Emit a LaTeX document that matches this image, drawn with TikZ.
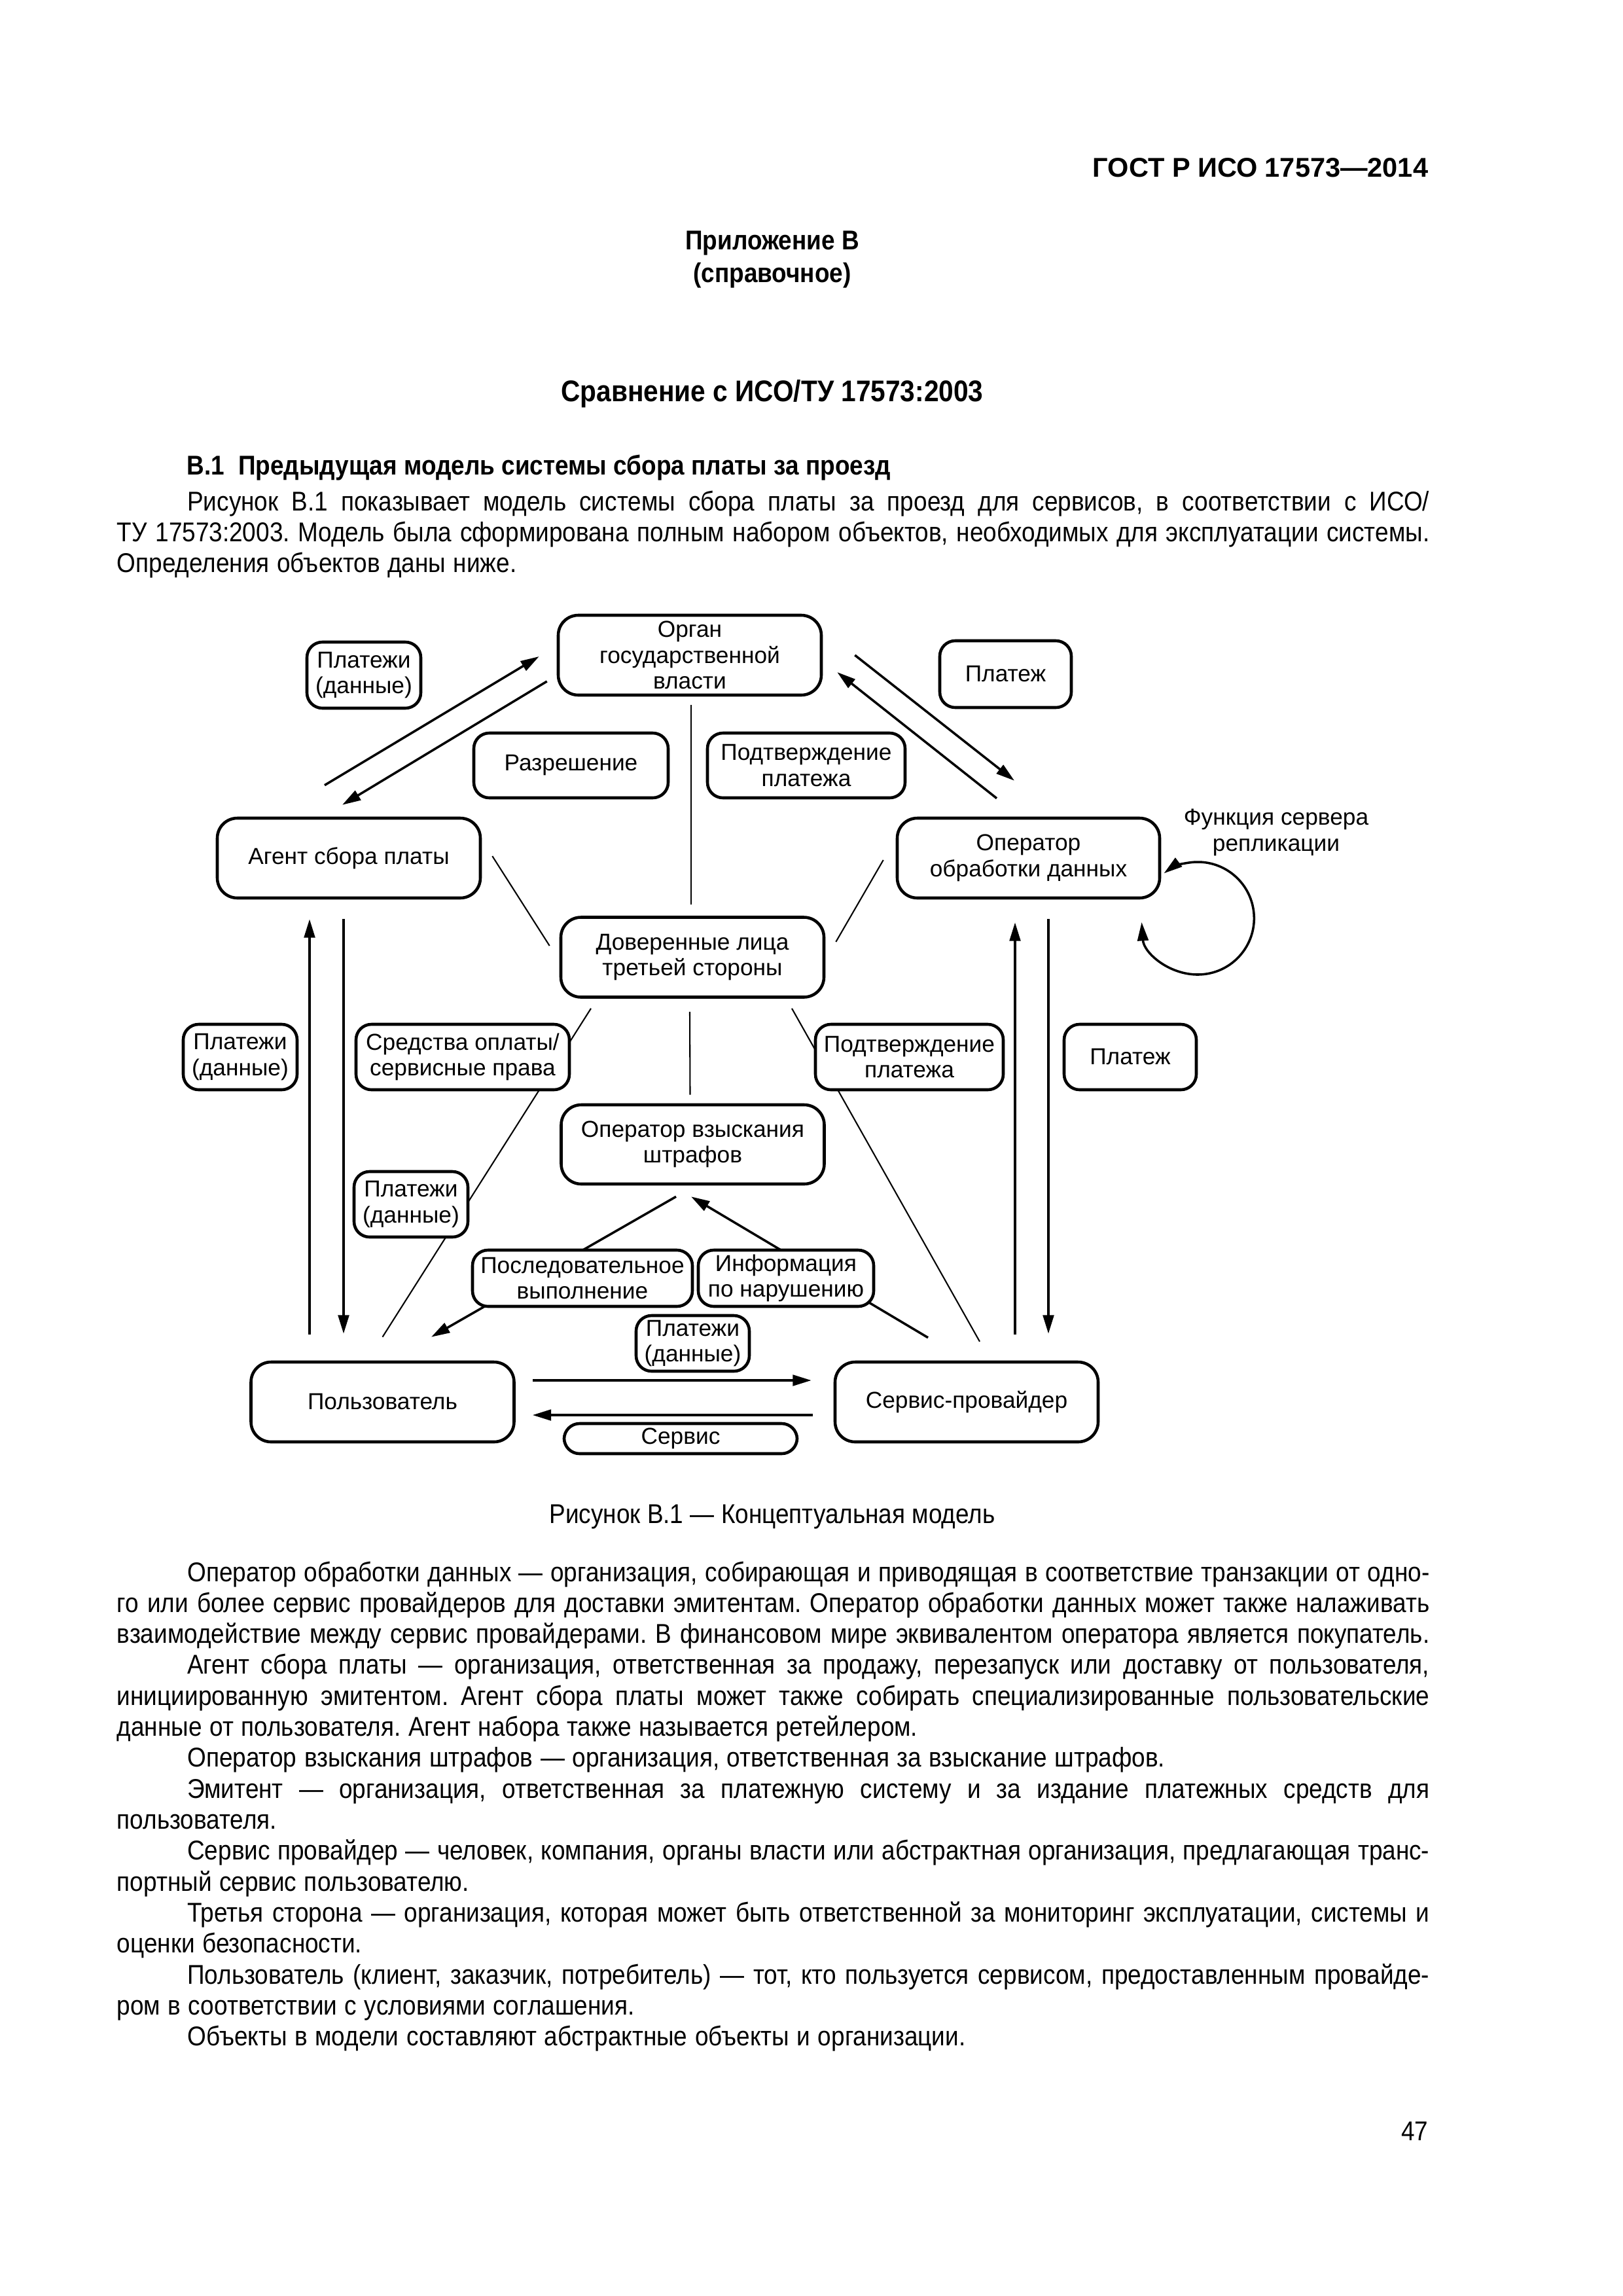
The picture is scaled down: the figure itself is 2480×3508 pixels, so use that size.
\documentclass[tikz,border=0pt]{standalone}
\usepackage{fontspec}
\setmainfont{Liberation Sans}[FakeStretch=0.89]
\newfontfamily\diagfont{Liberation Sans}
\usetikzlibrary{arrows.meta,calc}

\def\pxl{0.08467mm}
\newlength\indw
\setlength\indw{9.1mm}
\newcommand\jl[1]{\hbox to\hsize{#1}}
\newcommand\paraset{\spaceskip=0.278em plus 0.6em minus 0.13em\relax\parindent=0pt\relax}

\begin{document}
\frenchspacing
\begin{tikzpicture}[x=\pxl, y=-\pxl,
    box/.style={draw, rounded corners=2.6mm, line width=1.1pt, align=center, inner sep=0pt,
        font=\diagfont\fontsize{8.5}{9.5}\selectfont},
    entity/.style={box, minimum width=402*\pxl, minimum height=122*\pxl},
    flowtag/.style 2 args={box, fill=white, rounded corners=2mm, minimum width=#1*\pxl, minimum height=#2*\pxl},
    arr/.style={line width=0.85pt, -{Triangle[length=2.4mm,width=1.4mm]}},
    link/.style={line width=0.5pt},
    txt/.style={inner sep=0pt, font=\fontsize{10}{11.4}\selectfont},
    btxt/.style={inner sep=0pt, font=\fontsize{10}{11.4}\selectfont\bfseries},
    para/.style={txt, text width=169.8mm, anchor=base west},
]
\useasboundingbox (0,0) rectangle (2480,3508);

% page text
\node[btxt, font=\diagfont\fontsize{10}{11.4}\selectfont\bfseries, anchor=base east] (hdr) at (2183,270) {ГОСТ Р ИСО 17573—2014};
\node[btxt, anchor=base] (annex) at (1180,381) {Приложение В};
\node[btxt, anchor=base] (annexkind) at (1180,431) {(справочное)};
\node[btxt, font=\fontsize{11}{12.5}\selectfont\bfseries, anchor=base] (title) at (1180,613) {Сравнение с ИСО/ТУ 17573:2003};
\node[btxt, anchor=base west] (sec) at (285,725) {В.1\hspace{0.5em}Предыдущая модель системы сбора платы за проезд};
\node[para] (intro) at (178,780) {\paraset
\jl{\hspace*{\indw}Рисунок В.1 показывает модель системы сбора платы за проезд для сервисов, в соответствии с ИСО/}
\jl{ТУ 17573:2003. Модель была сформирована полным набором объектов, необходимых для эксплуатации системы.}
Определения объектов даны ниже.\par};

% main entities
\node[entity] (organ) at (1054,1001) {Орган\\государственной\\власти};
\node[entity] (agent) at (533,1311) {Агент сбора платы};
\node[entity, minimum width=401*\pxl] (dp) at (1571.5,1311) {Оператор\\обработки данных};
\node[entity] (trusted) at (1058,1462.5) {Доверенные лица\\третьей стороны};
\node[entity, minimum height=121*\pxl] (penalty) at (1058.5,1748.5) {Оператор взыскания\\штрафов};
\node[entity] (user) at (584.5,2142) {Пользователь};
\node[entity] (provider) at (1477,2142) {Сервис-провайдер};

% organ <-> agent, organ <-> dp
\draw[arr] ($(agent.north)+(-37,-48)$) -- ($(organ.west)+(-27,2)$);
\draw[arr] ($(organ.west)+(-15,40)$) -- ($(agent.north)+(-10,-18)$);
\draw[arr] ($(organ.east)+(49,0)$) -- ($(dp.north)+(-21.5,-55)$);
\draw[arr] ($(dp.north)+(-48.5,-28)$) -- ($(organ.east)+(22,26)$);

% thin links of the third party
\draw[link] ($(organ.south)+(2,13)$) -- ($(trusted.north)+(-2,-17)$);
\draw[link] ($(agent.east)+(16,-3)$) -- ($(trusted.west)+(-15,-17.5)$);
\draw[link] ($(dp.west)+(-19,3)$) -- ($(trusted.east)+(16,-23.5)$);
\draw[link] ($(trusted.south)+(-155,15)$) -- ($(user.north)+(0,-36)$);
\draw[link] ($(trusted.south)+(-4,20)$) -- ($(penalty.north)+(-4,-13)$);
\draw[link] ($(trusted.south)+(152,15)$) -- ($(provider.north)+(20,-29)$);

% vertical arrows
\draw[arr] ($(user.north)+(-111.5,-40)$) -- ($(agent.south)+(-60,30)$);
\draw[arr] ($(agent.south)+(-8,30)$) -- ($(user.north)+(-59.5,-41)$);
\draw[arr] ($(provider.north)+(74,-40)$) -- ($(dp.south)+(-20.5,35)$);
\draw[arr] ($(dp.south)+(30.5,30)$) -- ($(provider.north)+(125,-41)$);

% penalty operator
\draw[arr] ($(penalty.south)+(-25.5,17)$) -- ($(user.north)+(74.5,-36)$);
\draw[arr] ($(provider.north)+(-59,-35)$) -- ($(penalty.south)+(-2.5,17)$);

% user <-> provider
\draw[arr] ($(user.east)+(26,-33)$) -- ($(provider.west)+(-34,-33)$);
\draw[arr] ($(provider.west)+(-32,20)$) -- ($(user.east)+(26,20)$);

% replication loop
\coordinate (loopc) at ($(dp.east)+(56,92)$);
\draw[line width=0.85pt, {Triangle[length=2.4mm,width=1.4mm]}-{Triangle[length=2.4mm,width=1.4mm]}]
    ($(loopc)+(176:86)$) arc[start angle=176, end angle=-127, radius=86];
\node[align=center, inner sep=0pt, font=\diagfont\fontsize{8.5}{9.5}\selectfont] (repl) at (1950,1272) {Функция сервера\\репликации};

% flow labels
\node[flowtag={174}{101}] (pay1) at (556,1031.5) {Платежи\\(данные)};
\node[flowtag={201}{102}] (fee1) at (1536.5,1030) {Платеж};
\node[flowtag={297}{99}] (permit) at (872.5,1169.5) {Разрешение};
\node[flowtag={302}{99}] (confirm1) at (1232,1169.5) {Подтверждение\\платежа};
\node[flowtag={174}{100}] (pay2) at (367,1615) {Платежи\\(данные)};
\node[flowtag={326}{100}] (means) at (707,1615) {Средства оплаты/\\сервисные права};
\node[flowtag={287}{100}] (confirm2) at (1389.5,1615) {Подтверждение\\платежа};
\node[flowtag={202}{100}] (fee2) at (1727,1615) {Платеж};
\node[flowtag={174}{100}] (pay3) at (628,1840) {Платежи\\(данные)};
\node[flowtag={336}{86}] (seq) at (890,1953) {Последовательное\\выполнение};
\node[flowtag={268}{86}] (info) at (1201,1953) {Информация\\по нарушению};
\node[flowtag={173}{85}] (pay4) at (1058.5,2052.5) {Платежи\\(данные)};
\node[flowtag={356}{46}] (service) at (1040,2198) {Сервис};

\node[txt, anchor=base] (caption) at (1180,2327) {Рисунок В.1 — Концептуальная модель};

% definitions
\node[para] (defs) at (178,2416) {\paraset
\jl{\hspace*{\indw}Оператор обработки данных — организация, собирающая и приводящая в соответствие транзакции от одно-}
\jl{го или более сервис провайдеров для доставки эмитентам. Оператор обработки данных может также налаживать}
\jl{взаимодействие между сервис провайдерами. В финансовом мире эквивалентом оператора является покупатель.}
\jl{\hspace*{\indw}Агент сбора платы — организация, ответственная за продажу, перезапуск или доставку от пользователя,}
\jl{инициированную эмитентом. Агент сбора платы может также собирать специализированные пользовательские}
данные от пользователя. Агент набора также называется ретейлером.\par
\hspace*{\indw}Оператор взыскания штрафов — организация, ответственная за взыскание штрафов.\par
\jl{\hspace*{\indw}Эмитент — организация, ответственная за платежную систему и за издание платежных средств для}
пользователя.\par
\jl{\hspace*{\indw}Сервис провайдер — человек, компания, органы власти или абстрактная организация, предлагающая транс-}
портный сервис пользователю.\par
\jl{\hspace*{\indw}Третья сторона — организация, которая может быть ответственной за мониторинг эксплуатации, системы и}
оценки безопасности.\par
\jl{\hspace*{\indw}Пользователь (клиент, заказчик, потребитель) — тот, кто пользуется сервисом, предоставленным провайде-}
ром в соответствии с условиями соглашения.\par
\hspace*{\indw}Объекты в модели составляют абстрактные объекты и организации.\par};

\node[txt, anchor=base east] (pageno) at (2183,3270) {47};
\end{tikzpicture}
\end{document}
